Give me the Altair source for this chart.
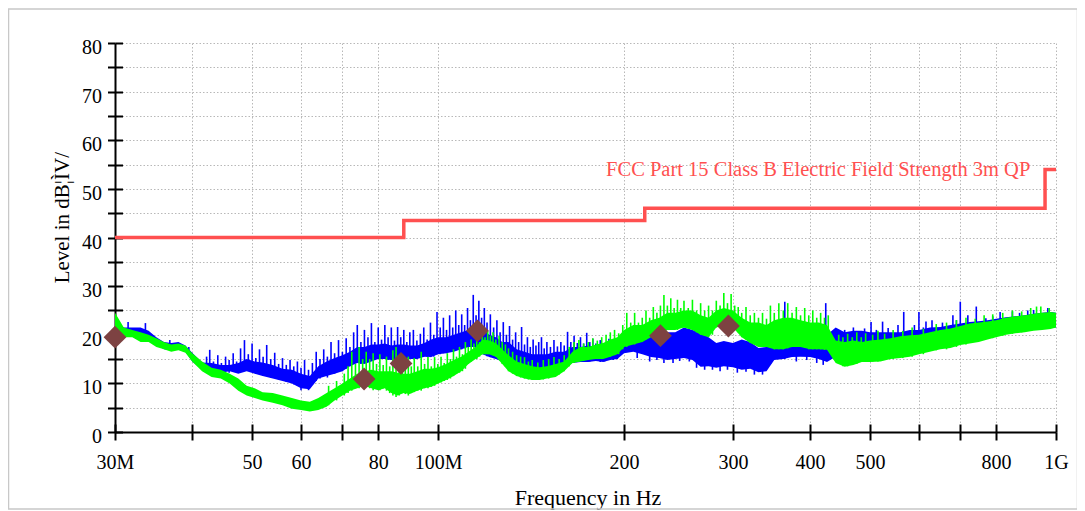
import altair as alt
import pandas as pd

# ---------------- data ----------------
freq_mhz = [30, 31, 32, 33, 34, 35, 36, 37, 38, 39, 40,
            41.5, 43, 44.5, 46, 47.5, 49, 50.5, 52,
            54, 56, 58, 60, 62, 64, 66, 68, 70, 72, 74, 76, 78, 80, 82, 84, 86, 88, 90,
            92.5, 95, 97.5, 100,
            103, 106, 109, 112, 115, 118, 121, 124, 127, 130,
            134, 138, 142, 146, 150,
            155, 160, 165, 170, 175, 180, 185, 190, 195, 200,
            207, 214, 221, 228, 235, 242,
            250, 258, 266, 274, 282, 290,
            300, 310, 320, 330, 340, 350,
            362, 374, 386, 400,
            413, 426, 440, 455, 470, 485, 500,
            520, 540, 560, 580, 600,
            625, 650, 675, 700, 725, 750, 775, 800,
            830, 860, 890, 920, 950, 980, 1000]

blue_lo = [20.5, 20, 20, 19.5, 19, 18, 17, 16.8, 17, 16.5, 14.5,
           12.8, 12.5, 12.2, 12.5, 12, 12.5, 12, 11.5,
           11, 10.5, 10, 9, 8.8, 11, 11.5, 12, 12.5, 13.5, 14.2, 14, 14.5, 15, 15, 14.8, 15, 15.5, 15,
           15, 15.5, 15.4, 16,
           16.2, 16.5, 17, 17.5, 17.5, 16, 15.4, 15, 14.5, 14.2,
           13, 11.8, 12, 12.1, 12.5,
           13, 13.5, 14.2, 14.4, 14.4, 14.6, 14.4, 14.8, 15, 16.2,
           16.5, 16, 15.4, 15.2, 14.8, 15,
           15.2, 14.8, 13.4, 13.5, 13.2, 13.5,
           13.3, 12.8, 13, 12.3, 12.5, 14.8,
           15, 15.4, 15.5, 15.4,
           15, 14.4, 15.5, 16.2, 16.5, 16.9, 17,
           17, 17.5, 17.5, 17.8, 18,
           18.3, 18.5, 18.8, 19, 19.2, 19.5, 19.8, 20,
           20.3, 20.5, 20.8, 21, 21.2, 21.5, 21.5]

blue_hi = [22.5, 21.5, 21.5, 21.5, 20.8, 19.5, 18.5, 18.3, 18.5, 17.8, 16.3,
           14.3, 14.2, 13.8, 13.8, 14.2, 15, 14.5, 14.3,
           13.8, 13, 12.8, 12, 11.5, 13.5, 14.5, 15.2, 15.8, 16.5, 17.5, 17.5, 18, 18, 18.2, 17.8, 18, 18, 17.8,
           17.8, 18.3, 19, 19.5,
           19.5, 20, 20.5, 21, 21.5, 21, 20, 19.5, 18.5, 18.5,
           17, 16.5, 16, 16, 16,
           16.5, 16.5, 17.5, 17.5, 17.8, 17.5, 17.3, 17.3, 17.6, 18.5,
           19.3, 19.8, 20, 19.8, 20.5, 20.5,
           21.5, 21, 20.5, 19.5, 18.3, 18.7,
           18.3, 19, 18.5, 17.3, 17.5, 19,
           19.3, 18.8, 19, 18.9,
           19.5, 20, 21.5, 20.5, 20.8, 20.8, 20.5,
           20.5, 20.5, 20.5, 21, 21,
           21.5, 21.6, 22, 22.3, 22.6, 22.8, 23, 23.3,
           23.6, 23.8, 24, 24.3, 24.5, 24.7, 24.5]

green_lo = [21, 19.5, 19.5, 18.5, 18.5, 17.5, 17, 16.5, 16.8, 16.3, 14.5,
            12.5, 11.3, 11, 10, 8.5, 7.5, 7, 6.5,
            6, 5.5, 4.8, 4.5, 4.2, 4.5, 5.2, 6.5, 7.5, 8.5, 9, 9.5, 9, 8.6, 9, 8, 7.5, 8, 7.8,
            8.5, 9, 9.3, 10,
            10.7, 11.5, 12.5, 14, 15, 16, 16, 15.5, 14, 12.5,
            11.5, 11, 10.7, 10.7, 11,
            11.3, 12.5, 14.2, 14.5, 14.8, 15, 15, 15.5, 16, 17.5,
            18, 18.5, 19.5, 20, 21, 21,
            21.5, 21, 20, 19.5, 21.5, 22,
            21.5, 19.5, 18.3, 17.5, 17.5, 17,
            17, 17.5, 17.5, 17,
            17, 16.9, 14.2, 13.4, 13.8, 14.4, 14.4,
            14.5, 15, 15.2, 15.5, 16,
            16.5, 17, 17.3, 17.9, 18.2, 18.5, 19, 19.5,
            20, 20.3, 20.5, 20.8, 21, 21.2, 21.5]

green_hi = [24.5, 21.5, 21, 20.5, 20, 19.3, 18.5, 18, 18.2, 17.8, 16.2,
            14.5, 13.2, 12.8, 12, 11, 9.5, 9, 8.2,
            8, 7.5, 7, 6.5, 6.2, 7, 8, 9, 10, 11, 12, 12.5, 12.8, 12.5, 12.5, 12.5, 12.2, 12, 12,
            12.5, 13, 13, 13.3,
            14, 14.8, 15.5, 16.5, 17.5, 19, 18.8, 18.3, 17, 15.8,
            14.5, 14, 13.5, 13.3, 13.5,
            14, 14.5, 16.5, 17.5, 17.5, 18, 18.3, 19, 19.5, 21,
            22, 22, 23, 23.5, 24.5, 24.5,
            25, 25, 24, 23.5, 25, 25.5,
            25, 23.5, 22.5, 22.5, 22, 23,
            23.5, 23.5, 23, 22.5,
            22.5, 22, 18.8, 18.5, 18.8, 18.5, 18.8,
            19, 19.3, 19.7, 19.9, 20,
            20.5, 21, 21.3, 21.8, 22.3, 22.5, 22.7, 23,
            23.5, 23.8, 24, 24.3, 24.5, 24.7, 24.5]

blue_spike_f = [31.5, 33.6, 36.8, 39.5,
                42.2, 42.7, 43.3, 44.0, 44.6, 45.3, 45.9, 46.6, 47.2, 47.9,
                48.6, 49.3, 50.0, 50.7, 51.4, 52.1, 52.8, 53.6, 54.4, 55.2,
                56.0, 56.8, 57.6, 58.4, 59.2, 60.0, 60.8, 61.7, 62.6, 63.5,
                64.4, 65.3, 66.2, 67.1, 68.0, 69.0, 70.0, 71.0, 72.0, 73.0,
                74.0, 75.0, 76.0, 77.0, 78.0, 79.0, 80.0, 81.0, 82.0, 83.0,
                84.0, 85.0, 86.0, 87.0, 88.0, 89.0, 90.0, 91.2, 92.4, 93.6,
                94.8, 96.0, 97.2, 98.4, 99.6, 100.8, 102.0, 103.2, 104.4, 105.6,
                106.8, 108.0, 109.2, 110.4, 111.6, 112.8, 114.0, 115.2, 116.4, 117.6,
                118.8, 120.0, 121.5, 123.0, 124.5, 126.0, 127.5, 129.0, 130.5, 132.0,
                133.5, 135.0, 136.5, 138.0, 139.5, 141.0, 142.5, 144.0, 145.5, 147.0,
                148.5, 150.0, 152.0, 154.0, 156.0, 158.0, 160.0, 162.0, 164.0, 166.0,
                168.0, 170.0, 172.0, 174.0, 176.0, 178.0, 180.0, 183.0, 186.0, 189.0,
                192.0, 195.0, 210.0, 220.0, 226.0, 232.0, 240.0, 246.0, 255.0, 262.0,
                270.0, 278.0, 286.0, 294.0, 305.0, 315.0, 325.0, 335.0, 345.0, 364.0,
                380.0, 395.0, 410.0, 420.0, 424.0, 455.0, 470.0, 490.0, 502.0, 512.0,
                524.0, 535.0, 555.0, 567.0, 590.0, 600.0, 610.0, 616.0, 630.0, 655.0,
                681.0, 690.0, 700.0, 720.0, 743.0, 770.0, 790.0, 812.0, 850.0, 873.0,
                900.0, 920.0, 970.0]
blue_spike_lo = [21, 20.5, 17, 16,
                 13, 12.5, 12.8, 12.2, 12.5, 12.8, 12.2, 12.8, 12.5, 12.5,
                 13, 12.8, 12.5, 12, 12.2, 11.5, 11.8, 11.2, 11.5, 10.8,
                 11, 10.3, 10.5, 9.8, 9.5, 8.6, 9.5, 8.6, 9.8, 10.5,
                 11, 11.5, 11.2, 12, 12, 12.5, 12.5, 13, 13.5, 14,
                 14.2, 14, 14.5, 14.5, 14.8, 15, 15, 15, 15, 14.8,
                 14.8, 15, 15, 15.5, 15.5, 15, 15, 15, 15, 15.2,
                 15.5, 15.5, 15.4, 15.5, 16, 16, 16.2, 16.2, 16.5, 16.5,
                 16.8, 17, 17, 17.2, 17.5, 17.5, 17.5, 17.3, 17, 16.5,
                 16, 15.6, 15.4, 15.2, 15, 14.8, 14.5, 14.2, 14, 13.5,
                 13, 12.5, 11.5, 12, 11.8, 12, 12.1, 12.2, 12.1, 12.5,
                 12.5, 12.5, 13, 13, 13.2, 13.5, 13.5, 14, 14.2, 14.2,
                 14.4, 14.4, 14.4, 14.4, 14.5, 14.6, 14.6, 14.4, 14.5, 14.8,
                 14.8, 15, 15.2, 14.5, 14.8, 14.2, 14.2, 14.6, 14.5, 13.2,
                 12.8, 12.8, 12.5, 12.8, 12.2, 12.4, 11.8, 11.8, 14, 15,
                 14.5, 14.8, 14.2, 13.8, 15, 17, 17.5, 17.5, 17, 18,
                 18.5, 18, 18, 17.8, 18.5, 18, 18.5, 18, 19, 19,
                 19, 19.5, 19, 20, 19.5, 20, 20.5, 20.5, 21, 21,
                 21.5, 21, 22]
blue_spike_hi = [22.6, 22.4, 18.9, 17.5,
                 15.5, 16.9, 14.5, 15.8, 14.2, 15.5, 14.8, 16.2, 14.5, 17.2,
                 18.9, 16, 18.2, 15.2, 17.0, 15.5, 17.9, 15, 16.3, 14,
                 15.2, 13.8, 14.8, 13.5, 14.5, 13.2, 14.8, 12.8, 14.2, 16.5,
                 15, 17, 15.5, 18.5, 16.2, 18.9, 16.5, 19.3, 17.5, 20.5,
                 22, 18.5, 21, 19.5, 22.4, 18.5, 21.5, 19, 22, 19.5,
                 21.5, 18.8, 21.6, 19.5, 21, 18.5, 20.5, 21, 18.8, 20.2,
                 21.5, 19, 22.5, 20, 24.7, 21.5, 23.5, 21, 24, 21.5,
                 25, 22, 24.2, 22, 25.5, 23, 28.2, 24, 27, 23.5,
                 25.5, 22.5, 24.2, 21.5, 23, 20.5, 22.6, 20, 21.8, 19,
                 20.5, 18.5, 21.6, 18, 19.5, 17.5, 19, 17.8, 18.5, 19.5,
                 17.2, 18.5, 17.5, 18.9, 17.6, 18.5, 17.8, 20.6, 18.5, 19.8,
                 18.3, 19.5, 18.2, 20.4, 18.5, 19.2, 18.2, 18.9, 17.8, 19.2,
                 18, 18.9, 18, 18, 18, 18, 18, 19, 22.4, 18,
                 18, 17, 17, 17, 17, 17, 16, 16, 17, 26.8,
                 18, 18, 18, 18, 26.5, 21, 21.5, 21.3, 22.6, 21,
                 22.7, 21.4, 22, 24.7, 22, 24.7, 21.5, 22.7, 23, 22.5,
                 24, 23, 26.8, 24, 25.8, 23.4, 23.8, 24.7, 24.8, 24.5,
                 25, 25.1, 25.5]

green_spike_f = [66.5, 68.5, 70.5, 71.5, 72.5, 73.5, 74.5, 75.5, 76.5, 77.5,
                 78.5, 79.5, 80.5, 81.5, 82.5, 83.5, 84.5, 85.5, 86.5, 87.5,
                 88.5, 89.5, 90.5, 91.5, 92.7, 93.9, 95.1, 96.3, 97.5, 98.7,
                 99.9, 101.1, 102.3, 103.5, 104.7, 105.9, 107.1, 108.3, 109.5, 110.7,
                 111.9, 113.1, 114.3, 115.5, 116.7, 117.9, 119.1, 120.3, 121.5, 122.7,
                 124.0, 125.5, 127.0, 128.5, 130.0, 132.0, 134.0, 136.0, 138.0, 140.0,
                 142.0, 145.0, 148.0, 151.0, 154.0, 157.0, 160.0, 163.0, 166.0, 169.0,
                 172.0, 175.0, 178.0, 181.0, 184.0, 187.0, 190.0, 193.0, 196.0, 199.0,
                 202.0, 205.0, 208.0, 211.0, 214.0, 217.0, 220.0, 223.0, 226.0, 229.0,
                 232.0, 235.0, 238.0, 241.0, 244.0, 247.0, 250.0, 254.0, 258.0, 262.0,
                 266.0, 270.0, 274.0, 278.0, 282.0, 286.0, 290.0, 294.0, 298.0, 302.0,
                 306.0, 310.0, 315.0, 320.0, 325.0, 330.0, 335.0, 340.0, 345.0, 350.0,
                 356.0, 362.0, 368.0, 374.0, 380.0, 386.0, 392.0, 398.0, 404.0, 410.0,
                 416.0, 422.0, 428.0, 445.0, 452.0, 460.0, 468.0, 476.0, 484.0, 492.0,
                 505.0, 515.0, 528.0, 545.0, 565.0, 585.0, 610.0, 640.0, 665.0, 690.0,
                 715.0, 740.0, 765.0, 790.0, 820.0, 850.0, 880.0, 910.0, 930.0, 945.0,
                 975.0]
green_spike_lo = [5.5, 6.5, 7.5, 8, 8.5, 9, 9, 9.5, 9.5, 9,
                  8.6, 9, 8.6, 9, 8.5, 8, 7.5, 7.2, 7.5, 8,
                  7.8, 7.5, 8, 8.2, 8.5, 8.5, 9, 9, 9.3, 9.5,
                  10, 10.2, 10.5, 10.7, 11, 11.5, 12, 12.2, 12.5, 13,
                  14, 14.5, 15, 15, 15.5, 16, 16, 16, 16, 15.8,
                  15.5, 15, 14, 13.5, 12.5, 12, 11.5, 11.2, 11, 10.8,
                  10.7, 10.7, 10.8, 11, 11.3, 11.8, 12.5, 13.5, 14.2, 14.5,
                  14.6, 14.8, 15, 15, 15, 15.2, 15.5, 15.8, 16, 17,
                  17.5, 18, 18, 18.3, 18.5, 19, 19.5, 19.5, 20, 20,
                  20.5, 21, 21, 21, 21, 21.5, 21.5, 21.3, 21, 20.5,
                  20, 19.8, 19.5, 20, 21.5, 22, 22, 22, 22, 21.5,
                  20.5, 19.5, 19, 18.3, 18, 17.5, 17.5, 17.5, 17.3, 17,
                  17, 17, 17.2, 17.5, 17.5, 17.5, 17.3, 17, 17, 17,
                  17, 16.9, 16.9, 14, 13.5, 13.5, 13.8, 14, 14.4, 14.4,
                  14.5, 14.5, 15, 15, 15.2, 15.5, 16, 16.8, 17, 17.5,
                  18, 18.5, 19, 19.3, 19.8, 20.2, 20.5, 20.8, 21, 21,
                  21.2]
green_spike_hi = [9.5, 10.5, 12, 13.5, 16.5, 14, 17.5, 15, 16.5, 15,
                  16.2, 14, 16, 13.8, 15.5, 13.5, 16.8, 17.5, 14.5, 16,
                  13.5, 15.5, 13.5, 15.2, 13.5, 16.5, 14, 15.4, 13.5, 15.4,
                  14, 15.5, 14.2, 16.2, 15, 17, 15.5, 17.5, 16, 18.5,
                  17.5, 19, 18.2, 19.5, 18.5, 21, 19.5, 20.8, 19.8, 20.5,
                  19, 19.8, 18.5, 18, 17.2, 16.5, 15.8, 15.5, 15.4, 14.5,
                  14.8, 14.3, 14.8, 15, 15.4, 15, 15.8, 17.5, 18.5, 18.9,
                  18.2, 18.5, 19.3, 18.8, 19.5, 20, 20.5, 21, 20.3, 22,
                  24.5, 22.5, 24.5, 22.5, 23.5, 25, 23.5, 25.7, 24.5, 26,
                  28.2, 26, 27.5, 25.5, 27.2, 25.5, 27, 25.5, 27.2, 25,
                  26.5, 25, 26, 25, 27, 26, 28.6, 26.5, 28.4, 26,
                  25.7, 24.5, 25.7, 24, 24.5, 23.5, 24.5, 23.3, 26, 24.5,
                  26.5, 25, 26.5, 24.5, 25.7, 24, 25.5, 24, 25, 23.5,
                  24.5, 23.5, 24, 20, 19.5, 20.2, 19.5, 20.5, 19.5, 20.3,
                  20, 20.8, 20.2, 21, 20.8, 21.5, 21.2, 22.2, 22.5, 23,
                  23.5, 23.3, 24, 24.2, 24.5, 25, 24.8, 25.5, 25.8, 25.8,
                  25.5]

limit_f = [30, 88, 216, 960, 1000]
limit_v = [40, 43.5, 46, 54, 54]
limit_name = "FCC Part 15 Class B Electric Field Strength 3m QP"
limit_label_f = 187
limit_label_v = 52.7

peak_f = [30, 75.9, 87.1, 115.8, 229, 295]
peak_v = [19.5, 10.9, 14.1, 20.8, 19.8, 21.8]

x_tick_vals = [30, 40, 50, 60, 70, 80, 100, 200, 300, 400, 500, 600, 700, 800, 1000]
x_tick_text = ["30M", "", "50", "60", "", "80", "100M", "200", "300", "400", "500", "", "", "800", "1G"]
y_tick_vals = list(range(0, 81, 5))
y_tick_text = [str(v) if v % 10 == 0 else "" for v in y_tick_vals]

# ---------------- styling ----------------
W, H = 941, 389
FONT = "Liberation Serif"
BLUE = "#0000ff"
GREEN = "#00ff00"
RED = "#ff5050"
BROWN = "#7d4242"
GRID = "#b8b8b8"


def label_expr(vals, texts):
    parts = [f"datum.value == {v} ? '{t}'" for v, t in zip(vals, texts)]
    return " : ".join(parts) + " : ''"


blue_df = pd.DataFrame({"f": freq_mhz, "lo": blue_lo, "hi": blue_hi})
green_df = pd.DataFrame({"f": freq_mhz, "lo": green_lo, "hi": green_hi})
bsp_df = pd.DataFrame({"f": blue_spike_f, "lo": blue_spike_lo, "hi": blue_spike_hi})
gsp_df = pd.DataFrame({"f": green_spike_f, "lo": green_spike_lo, "hi": green_spike_hi})
limit_df = pd.DataFrame({"f": limit_f, "v": limit_v})
peak_df = pd.DataFrame({"f": peak_f, "v": peak_v})
label_df = pd.DataFrame({"f": [limit_label_f], "v": [limit_label_v], "t": [limit_name]})

xs = alt.Scale(type="log", domain=[30, 1000], nice=False)
ys = alt.Scale(domain=[0, 80], nice=False)

x_main = alt.Axis(
    orient="bottom", values=x_tick_vals, labelExpr=label_expr(x_tick_vals, x_tick_text),
    title="Frequency in Hz", grid=True, gridColor=GRID, gridDash=[1.5, 2], gridWidth=1,
    tickSize=8, tickWidth=2, tickColor="black", domainColor="black", domainWidth=2,
    labelFont=FONT, labelFontSize=20, labelColor="black", labelBaseline="alphabetic",
    labelPadding=28, labelFlush=False, labelOverlap=False,
    titleFont=FONT, titleFontSize=22, titleFontWeight="normal", titleColor="black",
    titleX=472.5, titleY=72.7, titleAlign="center", titleBaseline="alphabetic",
)
y_main = alt.Axis(
    orient="left", values=y_tick_vals, labelExpr=label_expr(y_tick_vals, y_tick_text),
    title="Level in dB¦ÌV/", grid=True, gridColor=GRID, gridDash=[1.5, 2], gridWidth=1,
    tickSize=7.5, tickWidth=2, tickColor="black", domainColor="black", domainWidth=2,
    labelFont=FONT, labelFontSize=20, labelColor="black", labelBaseline="middle",
    labelAlign="right", labelPadding=6, labelOffset=4.5, labelOverlap=False,
    titleFont=FONT, titleFontSize=21, titleFontWeight="normal", titleColor="black",
    titleX=-47, titleY=174.2, titleAngle=270, titleAlign="center", titleBaseline="alphabetic",
)
x_in = alt.Axis(orient="top", offset=-H, values=x_tick_vals, labels=False, domain=False,
                grid=False, tickSize=8, tickWidth=2, tickColor="black", title="")
y_in = alt.Axis(orient="right", offset=-W, values=y_tick_vals, labels=False, domain=False,
                grid=False, tickSize=7.5, tickWidth=2, tickColor="black", title="")

frame = alt.Chart(pd.DataFrame({"k": [0]})).mark_rect(
    fill="white", fillOpacity=0, stroke="#c8c8c8", strokeWidth=1.5).encode(
    x=alt.value(-106.5), x2=alt.value(962.5), y=alt.value(-34), y2=alt.value(466))

limit = alt.Chart(limit_df).mark_line(interpolate="step-after", color=RED, strokeWidth=3.5).encode(
    x=alt.X("f:Q", scale=xs, axis=None), y=alt.Y("v:Q", scale=ys, axis=None))

blue = alt.Chart(blue_df).mark_area(color=BLUE, opacity=1).encode(
    x=alt.X("f:Q", scale=xs, axis=x_main), y=alt.Y("lo:Q", scale=ys, axis=y_main), y2="hi:Q")
bsp = alt.Chart(bsp_df).mark_rule(color=BLUE, strokeWidth=1.6).encode(
    x=alt.X("f:Q", scale=xs, axis=None), y=alt.Y("lo:Q", scale=ys, axis=None), y2="hi:Q")

green = alt.Chart(green_df).mark_area(color=GREEN, opacity=1).encode(
    x=alt.X("f:Q", scale=xs, axis=x_in), y=alt.Y("lo:Q", scale=ys, axis=y_in), y2="hi:Q")
gsp = alt.Chart(gsp_df).mark_rule(color=GREEN, strokeWidth=1.6).encode(
    x=alt.X("f:Q", scale=xs, axis=None), y=alt.Y("lo:Q", scale=ys, axis=None), y2="hi:Q")

peaks = alt.Chart(peak_df).mark_point(shape="diamond", filled=True, size=520, color=BROWN, opacity=1).encode(
    x=alt.X("f:Q", scale=xs, axis=None), y=alt.Y("v:Q", scale=ys, axis=None))

label = alt.Chart(label_df).mark_text(align="left", baseline="alphabetic", font=FONT,
                                      fontSize=20.5, color=RED).encode(
    x=alt.X("f:Q", scale=xs, axis=None), y=alt.Y("v:Q", scale=ys, axis=None), text="t:N")

chart = (
    alt.layer(frame, limit, blue, bsp, green, gsp, peaks, label)
    .resolve_axis(x="independent", y="independent")
    .properties(width=W, height=H, autosize=alt.AutoSizeParams(type="none"),
                padding={"left": 107, "top": 35, "right": 21, "bottom": 80})
    .configure_view(strokeWidth=0)
)

chart.save("out.html", embed_options={"renderer": "svg", "actions": False})
